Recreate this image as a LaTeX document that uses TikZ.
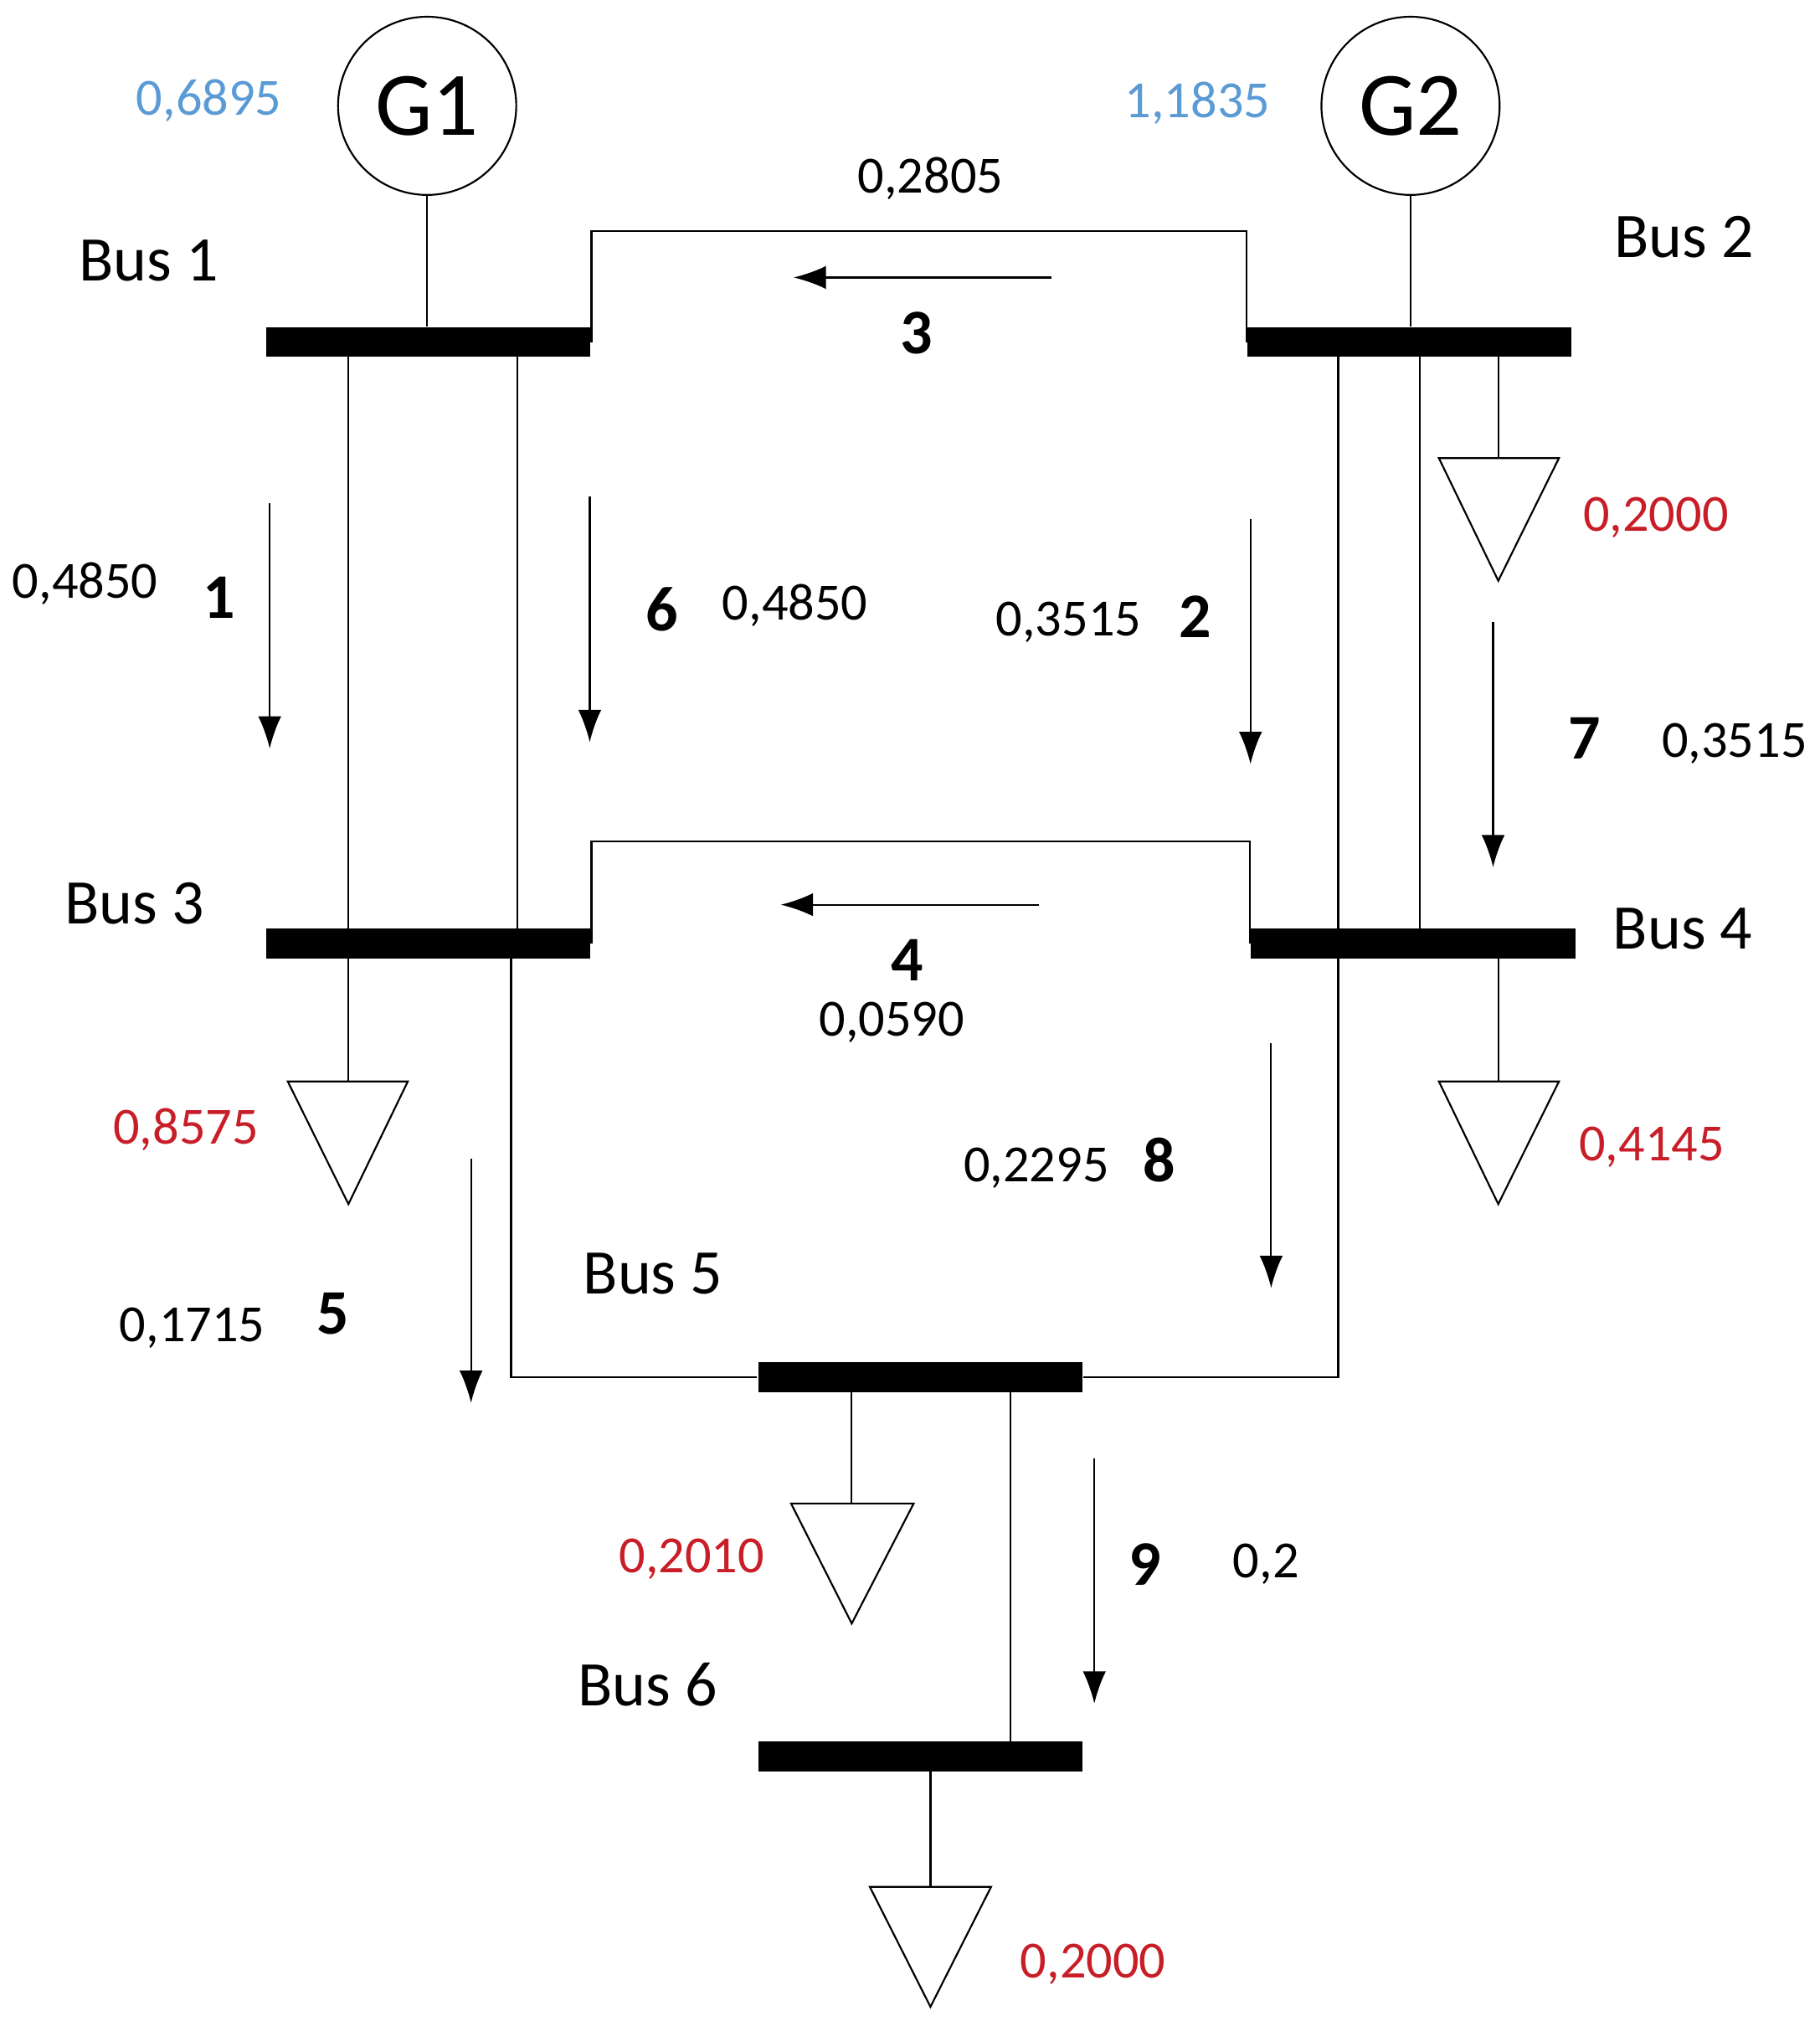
\documentclass[tikz,border=0pt]{standalone}
\usepackage{fontspec}
\setmainfont{Carlito}
\usetikzlibrary{arrows.meta,positioning}
\definecolor{genblue}{RGB}{91,155,213}
\definecolor{loadred}{RGB}{200,30,40}
\tikzset{
  bus/.style={fill=black, minimum width=2.51cm, minimum height=0.23cm, inner sep=0pt},
  gen/.style={circle, draw, minimum size=1.38cm, inner sep=0pt, font=\fontsize{20}{24}\selectfont},
  load/.style={draw},
  flow/.style={-{Latex[length=0.25cm,width=0.18cm]}},
  lbl/.style={font=\fontsize{14}{16}\selectfont},
  num/.style={font=\fontsize{11.5}{14}\selectfont},
  idx/.style={font=\bfseries\fontsize{14}{16}\selectfont},
}
\begin{document}
\begin{tikzpicture}[x=0.01cm,y=-0.01cm]
\useasboundingbox (0,0) rectangle (1410,1566);

% ============================ generators and buses
\node[gen] (g1) at (331,82) {G1};
\node[gen] (g2) at (1093,82) {G2};
\node[bus] (b1) at (332,265) {};
\node[bus] (b2) at (1092,265) {};
\node[bus] (b3) at (332,731) {};
\node[bus] (b4) at (1095,731) {};
\node[bus] (b5) at (713,1067) {};
\node[bus] (b6) at (713,1361) {};

\draw (g1) -- (g1 |- b1.north);
\draw (g2) -- (g2 |- b2.north);

% ============================ lines
\draw (b1.east) -- (b1.east |- 0,179) -- (b2.west |- 0,179) -- (b2.west);
\draw (270,265) -- (270,731);
\draw (401,265) -- (401,731);
\draw (1037,265) -- (1037,1067) -- (b5.east);
\draw (1100,265) -- (1100,731);
\draw (b3.east) -- (b3.east |- 0,652) -- (b4.west |- 0,652) -- (b4.west);
\draw (396,731) -- (396,1067) -- (b5.west);
\draw (783,1067) -- (783,1361);

% ============================ loads
\draw (1161,265) -- (1161,355);
\draw[load] (1115,355) -- (1208,355) -- (1161,450) -- cycle;
\draw (270,731) -- (270,838);
\draw[load] (223,838) -- (316,838) -- (270,933) -- cycle;
\draw (1161,731) -- (1161,838);
\draw[load] (1115,838) -- (1208,838) -- (1161,933) -- cycle;
\draw (660,1067) -- (660,1165);
\draw[load] (613,1165) -- (708,1165) -- (660,1258) -- cycle;
\draw (721,1361) -- (721,1462);
\draw[load] (674,1462) -- (768,1462) -- (721,1555) -- cycle;

% ============================ flow arrows
\draw[flow] (815,215) -- (615,215);
\draw[flow] (805,701) -- (605,701);
\draw[flow] (209,390) -- (209,580);
\draw[flow] (457,385) -- (457,575);
\draw[flow] (969,402) -- (969,592);
\draw[flow] (1157,482) -- (1157,672);
\draw[flow] (985,808) -- (985,998);
\draw[flow] (365,898) -- (365,1087);
\draw[flow] (848,1130) -- (848,1320);

% ============================ labels
\node[num, text=genblue] (p1) at (162,78) {0,6895};
\node[num, text=genblue] (p2) at (928,80) {1,1835};
\node[lbl] (l1) at (115,202) {Bus 1};
\node[lbl] (l2) at (1305,184) {Bus 2};
\node[lbl] (l3) at (104,700) {Bus 3};
\node[lbl] (l4) at (1304,720) {Bus 4};
\node[lbl] (l5) at (506,987) {Bus 5};
\node[lbl] (l6) at (502,1305) {Bus 6};

\node[num] (f3) at (721,138) {0,2805};
\node[idx] (n3) at (710,258) {3};
\node[num] (f1) at (66,452) {0,4850};
\node[idx] (n1) at (170,463) {1};
\node[idx] (n6) at (513,472) {6};
\node[num] (f6) at (616,469) {0,4850};
\node[num] (f2) at (828,482) {0,3515};
\node[idx] (n2) at (926,478) {2};
\node[idx] (n7) at (1228,572) {7};
\node[num] (f7) at (1344,576) {0,3515};
\node[idx] (n4) at (703,744) {4};
\node[num] (f4) at (691,792) {0,0590};
\node[num] (f8) at (803,905) {0,2295};
\node[idx] (n8) at (898,899) {8};
\node[num] (f5) at (149,1029) {0,1715};
\node[idx] (n5) at (258,1018) {5};
\node[idx] (n9) at (887,1212) {9};
\node[num] (f9) at (981,1212) {0,2};

\node[num, text=loadred] (d2) at (1283,401) {0,2000};
\node[num, text=loadred] (d3) at (144,875) {0,8575};
\node[num, text=loadred] (d4) at (1280,889) {0,4145};
\node[num, text=loadred] (d5) at (536,1208) {0,2010};
\node[num, text=loadred] (d6) at (847,1522) {0,2000};
\end{tikzpicture}
\end{document}
